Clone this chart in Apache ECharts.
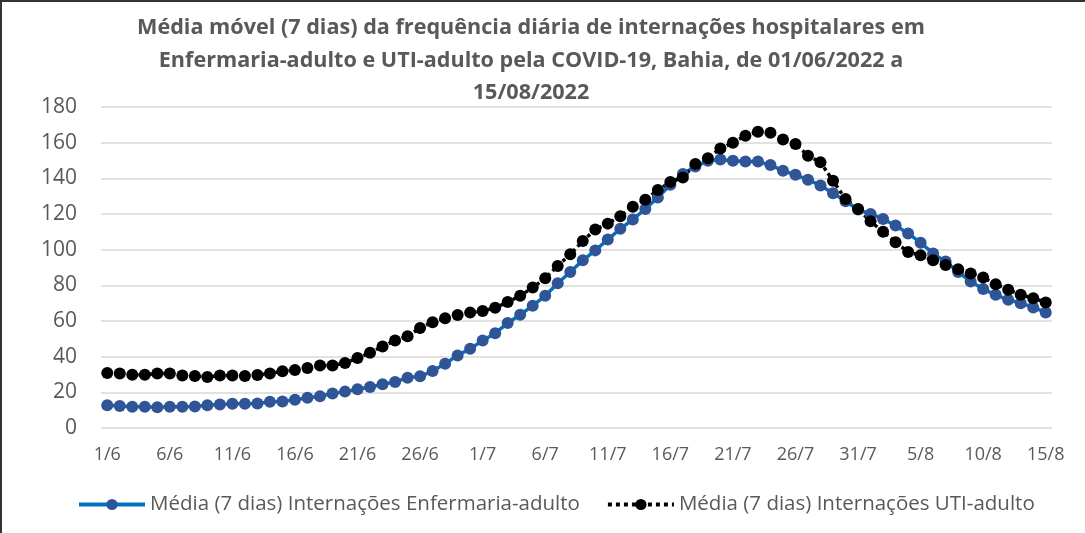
<!DOCTYPE html>
<html>
<head>
<meta charset="utf-8">
<script src="https://cdn.jsdelivr.net/npm/echarts@6/dist/echarts.min.js"></script>
<style>
  html, body { margin: 0; padding: 0; background: #fff; }
  #main { width: 1085px; height: 533px; box-sizing: border-box; border-left: 2px solid #333; border-top: 2px solid #333; }
</style>
</head>
<body>
<div id="main"></div>
<script>
// 01/06/2022 a 15/08/2022
var dias = [];
for (var d = 1; d <= 30; d++) dias.push(d + '/6');
for (var d = 1; d <= 31; d++) dias.push(d + '/7');
for (var d = 1; d <= 15; d++) dias.push(d + '/8');

var enfermaria = [
  12.8, 12.3, 11.9, 11.9, 11.7, 11.9, 11.9, 12.1, 12.8, 13.2,
  13.6, 13.6, 13.8, 14.7, 14.9, 15.8, 16.9, 17.8, 19.3, 20.4,
  21.7, 23.0, 24.5, 25.8, 28.2, 29.0, 31.9, 36.0, 40.7, 44.4,
  49.0, 53.1, 58.9, 63.5, 68.6, 74.1, 81.2, 87.5, 94.0, 99.6,
  105.7, 111.7, 116.9, 122.8, 129.3, 136.4, 142.5, 146.6, 149.8, 150.5,
  149.9, 149.4, 149.4, 147.5, 144.2, 142.0, 139.2, 136.0, 131.7, 127.1,
  122.5, 120.0, 117.2, 113.5, 109.1, 103.9, 97.9, 93.3, 87.5, 82.1,
  77.9, 74.7, 71.9, 70.0, 67.6, 64.8
];

var uti = [
  30.8, 30.6, 29.9, 29.9, 30.6, 30.6, 29.5, 29.2, 28.6, 29.4,
  29.4, 29.2, 29.7, 30.6, 31.8, 32.5, 33.6, 35.1, 35.1, 36.4,
  39.2, 42.2, 45.7, 49.0, 51.5, 56.1, 59.3, 61.5, 63.4, 64.7,
  65.6, 67.4, 70.6, 74.1, 78.8, 84.0, 90.9, 97.4, 104.8, 111.3,
  114.6, 118.7, 124.1, 128.0, 133.4, 137.9, 140.5, 148.1, 151.2, 156.7,
  160.0, 163.9, 166.1, 165.6, 161.8, 159.2, 152.7, 149.0, 138.6, 128.4,
  122.8, 115.9, 110.0, 104.2, 98.7, 96.8, 94.0, 91.4, 89.0, 86.6,
  84.4, 80.6, 77.5, 74.7, 72.8, 70.4
];

var fonte = '"Open Sans", "Noto Sans", sans-serif';
var cinza = '#595959';

var chart = echarts.init(document.getElementById('main'));
chart.setOption({
  animation: false,
  title: {
    text: 'Média móvel (7 dias) da frequência diária de internações hospitalares em\nEnfermaria-adulto e UTI-adulto pela COVID-19, Bahia, de 01/06/2022 a\n15/08/2022',
    left: 524,
    top: 5,
    textAlign: 'center',
    textStyle: { fontFamily: fonte, fontSize: 21.6, fontWeight: 'bold', color: cinza, lineHeight: 32.5 }
  },
  legend: {
    bottom: 13,
    left: 70,
    itemWidth: 66,
    itemHeight: 14,
    itemGap: 26,
    textStyle: { fontFamily: fonte, fontSize: 20.5, color: cinza },
    data: [
      { name: 'Média (7 dias) Internações Enfermaria-adulto', lineStyle: { width: 4 } },
      { name: 'Média (7 dias) Internações UTI-adulto', lineStyle: { width: 4 } }
    ]
  },
  grid: { left: 99, right: 33, top: 105, bottom: 105 },
  xAxis: {
    type: 'category',
    data: dias,
    boundaryGap: true,
    axisLine: { show: false },
    axisTick: { show: false },
    axisLabel: { interval: 4, fontFamily: fonte, fontSize: 18, color: cinza, margin: 18 }
  },
  yAxis: {
    type: 'value',
    min: 0, max: 180, interval: 20,
    axisLine: { show: false },
    axisTick: { show: false },
    axisLabel: { fontFamily: fonte, fontSize: 21, color: cinza, margin: 24 },
    splitLine: { lineStyle: { color: '#d9d9d9', width: 1.5 } }
  },
  series: [
    {
      name: 'Média (7 dias) Internações Enfermaria-adulto',
      type: 'line',
      data: enfermaria,
      symbol: 'circle',
      symbolSize: 12,
      showAllSymbol: true,
      lineStyle: { color: '#0070C0', width: 3.5 },
      itemStyle: { color: '#2F5597' }
    },
    {
      name: 'Média (7 dias) Internações UTI-adulto',
      type: 'line',
      data: uti,
      symbol: 'circle',
      symbolSize: 12,
      showAllSymbol: true,
      lineStyle: { color: '#000', width: 3.5, type: 'dotted' },
      itemStyle: { color: '#000' }
    }
  ]
});
</script>
</body>
</html>
